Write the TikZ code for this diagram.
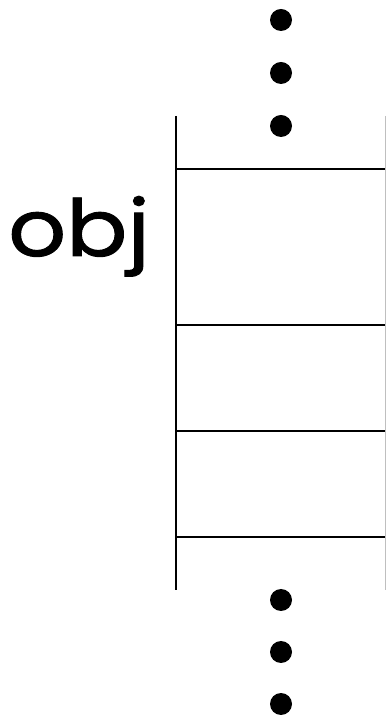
\documentclass[tikz,border=0pt]{standalone}
\usepackage{fontspec}
\newfontfamily\labelfont[FakeStretch=1.15,FakeBold=1.2]{Poppins}
\usepackage{tikz}

\begin{document}
\begin{tikzpicture}[
    pile/.style={line width=1.4pt},
    bord/.style={draw=black!25, line width=0.6pt},
    dot/.style={fill=black}]

\useasboundingbox (0,0) rectangle (9.65,17.925);

% pile
\draw[pile] (4.4,15.025) -- (4.4,3.175);
\draw[bord] (9.625,15.025) -- (9.625,3.175);
\draw[pile] (4.4,13.7) -- (9.625,13.7);
\draw[pile] (4.4,9.8) -- (9.625,9.8);
\draw[pile] (4.4,7.15) -- (9.625,7.15);
\draw[pile] (4.4,4.5) -- (9.625,4.5);

\node[anchor=base west, inner sep=0pt, font=\labelfont\fontsize{56}{60}\selectfont] (obj) at (0.2,11.525) {obj};

% points de suspension
\fill[dot] (7.025,17.425) circle (0.275);
\fill[dot] (7.025,16.1) circle (0.275);
\fill[dot] (7.025,14.775) circle (0.275);
\fill[dot] (7.025,2.925) circle (0.275);
\fill[dot] (7.025,1.625) circle (0.275);
\fill[dot] (7.025,0.325) circle (0.275);

\end{tikzpicture}
\end{document}
